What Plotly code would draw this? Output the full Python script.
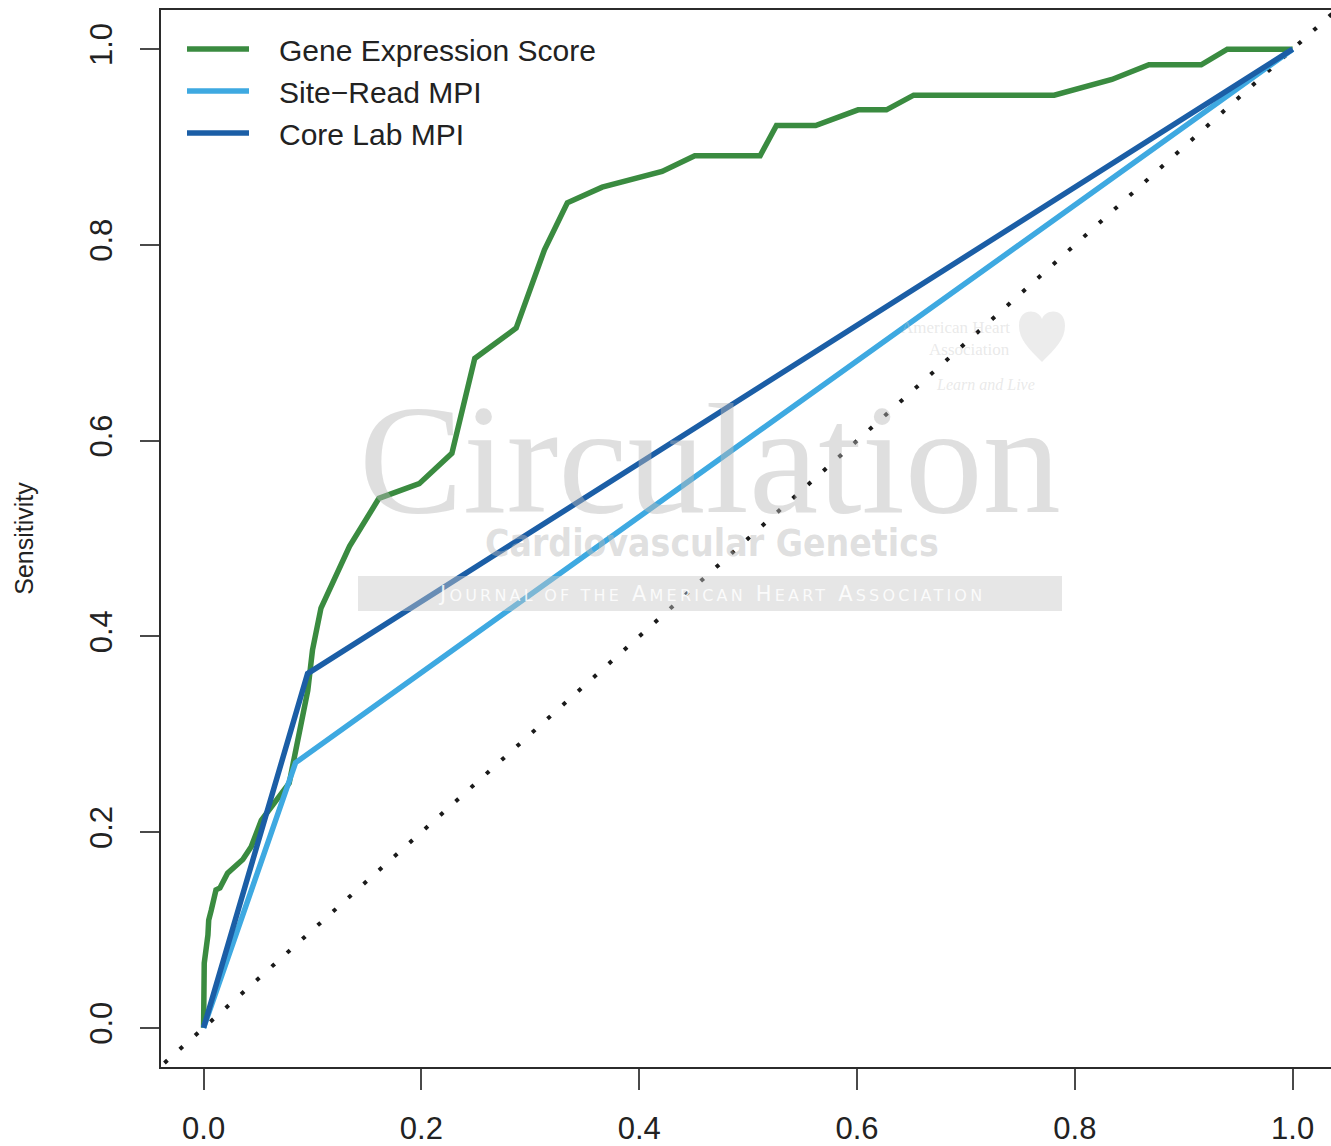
import plotly.graph_objects as go

# ROC curves: false positive rate (1 - specificity) vs sensitivity
gene_fpr = [0, 0.0006, 0.004, 0.0047, 0.007, 0.0114, 0.015, 0.022, 0.036, 0.0406,
            0.0437, 0.053, 0.0786, 0.0957, 0.100, 0.1078, 0.134, 0.161, 0.198, 0.228,
            0.249, 0.287, 0.313, 0.334, 0.366, 0.421, 0.451, 0.511, 0.526, 0.562,
            0.601, 0.627, 0.652, 0.781, 0.834, 0.868, 0.916, 0.940, 1.0]
gene_tpr = [0, 0.066, 0.095, 0.110, 0.120, 0.141, 0.143, 0.158, 0.172, 0.179,
            0.185, 0.212, 0.250, 0.345, 0.386, 0.429, 0.492, 0.541, 0.556, 0.587,
            0.684, 0.715, 0.795, 0.843, 0.859, 0.875, 0.891, 0.891, 0.922, 0.922,
            0.938, 0.938, 0.953, 0.953, 0.969, 0.984, 0.984, 1.0, 1.0]

site_fpr = [0, 0.0845, 1.0]
site_tpr = [0, 0.271, 1.0]

core_fpr = [0, 0.0955, 1.0]
core_tpr = [0, 0.362, 1.0]

chance = [-0.05, 1.05]

tick_vals = [0.0, 0.2, 0.4, 0.6, 0.8, 1.0]
tick_text = ["0.0", "0.2", "0.4", "0.6", "0.8", "1.0"]

GREEN = "#3a8b40"
LIGHT_BLUE = "#3ea9e1"
DARK_BLUE = "#1b5ea6"
FONT = "Liberation Sans, Arial, Helvetica, sans-serif"

W, H = 1331, 1146
L, R, T, B = 161, 0, 10, 79

# gap between legend sample line and its label
GAP = "\u00a0\u00a0\u00a0"


def px_x(px):
    return (px - L) / (W - L - R)


def px_y(py):
    return (H - B - py) / (H - B - T)


fig = go.Figure()

fig.add_trace(go.Scatter(
    x=chance, y=chance, mode="lines", showlegend=False, hoverinfo="skip",
    line=dict(color="#1a1a1a", width=4, dash="4px,16.6px"),
))
fig.add_trace(go.Scatter(
    x=gene_fpr, y=gene_tpr, mode="lines", name=GAP + "Gene Expression Score",
    line=dict(color=GREEN, width=5.5),
))
fig.add_trace(go.Scatter(
    x=site_fpr, y=site_tpr, mode="lines", name=GAP + "Site\u2212Read MPI",
    line=dict(color=LIGHT_BLUE, width=5.5),
))
fig.add_trace(go.Scatter(
    x=core_fpr, y=core_tpr, mode="lines", name=GAP + "Core Lab MPI",
    line=dict(color=DARK_BLUE, width=5.5),
))

axis_common = dict(
    showgrid=False, zeroline=False, automargin=False,
    showline=True, mirror=True, linecolor="#2b2b2b", linewidth=2,
    ticks="outside", tickcolor="#4a4a4a", tickwidth=2,
    tickvals=tick_vals, ticktext=tick_text,
    tickfont=dict(family=FONT, size=31, color="#222222"),
)

fig.update_xaxes(range=[-0.0391, 1.0352], ticklen=21, ticklabelstandoff=12,
                 **axis_common)
fig.update_yaxes(range=[-0.0400, 1.0400], ticklen=19, tickangle=-90,
                 ticklabelstandoff=16,
                 title=dict(text="Sensitivity", standoff=43,
                            font=dict(family=FONT, size=25, color="#222222")),
                 **axis_common)

# Journal watermark, drawn semi-transparent over the plot
WM = "rgba(185,185,185,0.45)"
LOGO = "rgba(200,200,200,0.4)"
annotations = [
    dict(text="Circulation", x=px_x(710), y=px_y(459), xref="paper", yref="paper",
         showarrow=False, xanchor="center", yanchor="middle",
         font=dict(family="Liberation Serif, DejaVu Serif, serif", size=156, color=WM)),
    dict(text="<b>Cardiovascular Genetics</b>", x=px_x(712), y=px_y(543),
         xref="paper", yref="paper", showarrow=False, xanchor="center", yanchor="middle",
         font=dict(family="Liberation Sans Narrow, DejaVu Sans Condensed, Arial Narrow, sans-serif",
                   size=37, color=WM)),
    dict(text=("<span style='letter-spacing:3.2px'>"
               "J<span style='font-size:16px'>OURNAL OF THE</span> "
               "A<span style='font-size:16px'>MERICAN</span> "
               "H<span style='font-size:16px'>EART</span> "
               "A<span style='font-size:16px'>SSOCIATION</span></span>"),
         x=px_x(711), y=px_y(594), xref="paper", yref="paper", showarrow=False,
         xanchor="center", yanchor="middle",
         font=dict(family="DejaVu Sans, sans-serif", size=21, color="rgba(255,255,255,0.85)")),
    dict(text="American Heart", x=px_x(1012), y=px_y(327), xref="paper", yref="paper",
         showarrow=False, xanchor="right", yanchor="middle",
         font=dict(family="Liberation Serif, serif", size=17, color=LOGO)),
    dict(text="Association", x=px_x(1012), y=px_y(349), xref="paper", yref="paper",
         showarrow=False, xanchor="right", yanchor="middle",
         font=dict(family="Liberation Serif, serif", size=17, color=LOGO)),
    dict(text="<i>Learn and Live</i>", x=px_x(985), y=px_y(384), xref="paper", yref="paper",
         showarrow=False, xanchor="center", yanchor="middle",
         font=dict(family="Liberation Serif, serif", size=16, color=LOGO)),
]


def heart_path(cx, top, bottom, half_w):
    """SVG path (paper coords) for a simple heart outline."""
    lx, rx = cx - half_w, cx + half_w
    mid = top + (bottom - top) * 0.45

    def p(x, y):
        return f"{px_x(x):.5f},{px_y(y):.5f}"

    return (f"M {p(cx, bottom)} "
            f"C {p(cx - half_w * 0.6, bottom - 14)} {p(lx, mid + 6)} {p(lx, mid - 8)} "
            f"C {p(lx, top - 2)} {p(cx - 4, top - 2)} {p(cx, top + 9)} "
            f"C {p(cx + 4, top - 2)} {p(rx, top - 2)} {p(rx, mid - 8)} "
            f"C {p(rx, mid + 6)} {p(cx + half_w * 0.6, bottom - 14)} {p(cx, bottom)} Z")


shapes = [
    dict(type="rect", xref="paper", yref="paper",
         x0=px_x(358), x1=px_x(1062), y0=px_y(611), y1=px_y(576),
         fillcolor="rgba(200,200,200,0.45)", line=dict(width=0), layer="above"),
    dict(type="path", xref="paper", yref="paper",
         path=heart_path(1042, 310, 362, 23),
         fillcolor="rgba(200,200,200,0.35)", line=dict(width=0), layer="above"),
]

fig.update_layout(
    width=W, height=H,
    margin=dict(l=L, r=R, t=T, b=B, pad=0, autoexpand=False),
    paper_bgcolor="white", plot_bgcolor="white",
    font=dict(family=FONT, color="#222222"),
    legend=dict(x=px_x(182), y=px_y(23), xanchor="left", yanchor="top",
                bgcolor="rgba(0,0,0,0)", borderwidth=0,
                font=dict(family=FONT, size=30, color="#222222"),
                itemwidth=62, tracegroupgap=0),
    annotations=annotations,
    shapes=shapes,
)

fig.write_html("out.html")
